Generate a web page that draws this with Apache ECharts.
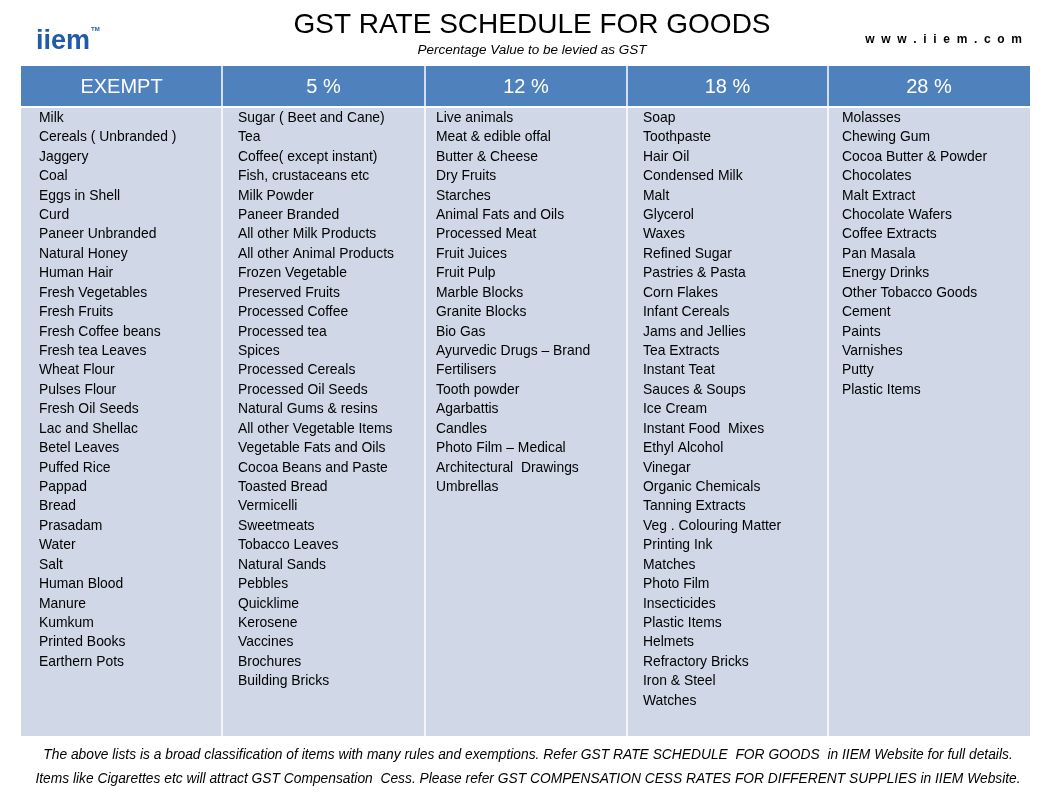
<!DOCTYPE html>
<html><head><meta charset="utf-8">
<script src="https://cdn.jsdelivr.net/npm/echarts@6/dist/echarts.min.js"></script>
<style>html,body{margin:0;padding:0;background:#fff}#c{width:1054px;height:792px}</style>
</head><body><div id="c"></div>
<script>
const headers = ["EXEMPT","5 %","12 %","18 %","28 %"];
const exempt = ["Milk","Cereals ( Unbranded )","Jaggery","Coal","Eggs in Shell","Curd","Paneer Unbranded","Natural Honey","Human Hair","Fresh Vegetables","Fresh Fruits","Fresh Coffee beans","Fresh tea Leaves","Wheat Flour","Pulses Flour","Fresh Oil Seeds","Lac and Shellac","Betel Leaves","Puffed Rice","Pappad","Bread","Prasadam","Water","Salt","Human Blood","Manure","Kumkum","Printed Books","Earthern Pots"];
const rate5 = ["Sugar ( Beet and Cane)","Tea","Coffee( except instant)","Fish, crustaceans etc","Milk Powder","Paneer Branded","All other Milk Products","All other Animal Products","Frozen Vegetable","Preserved Fruits","Processed Coffee","Processed tea","Spices","Processed Cereals","Processed Oil Seeds","Natural Gums & resins","All other Vegetable Items","Vegetable Fats and Oils","Cocoa Beans and Paste","Toasted Bread","Vermicelli","Sweetmeats","Tobacco Leaves","Natural Sands","Pebbles","Quicklime","Kerosene","Vaccines","Brochures","Building Bricks"];
const rate12 = ["Live animals","Meat & edible offal","Butter & Cheese","Dry Fruits","Starches","Animal Fats and Oils","Processed Meat","Fruit Juices","Fruit Pulp","Marble Blocks","Granite Blocks","Bio Gas","Ayurvedic Drugs – Brand","Fertilisers","Tooth powder","Agarbattis","Candles","Photo Film – Medical","Architectural  Drawings","Umbrellas"];
const rate18 = ["Soap","Toothpaste","Hair Oil","Condensed Milk","Malt","Glycerol","Waxes","Refined Sugar","Pastries & Pasta","Corn Flakes","Infant Cereals","Jams and Jellies","Tea Extracts","Instant Teat","Sauces & Soups","Ice Cream","Instant Food  Mixes","Ethyl Alcohol","Vinegar","Organic Chemicals","Tanning Extracts","Veg . Colouring Matter","Printing Ink","Matches","Photo Film","Insecticides","Plastic Items","Helmets","Refractory Bricks","Iron & Steel","Watches"];
const rate28 = ["Molasses","Chewing Gum","Cocoa Butter & Powder","Chocolates","Malt Extract","Chocolate Wafers","Coffee Extracts","Pan Masala","Energy Drinks","Other Tobacco Goods","Cement","Paints","Varnishes","Putty","Plastic Items"];
const columns = [exempt, rate5, rate12, rate18, rate28];
const footer = ["The above lists is a broad classification of items with many rules and exemptions. Refer GST RATE SCHEDULE  FOR GOODS  in IIEM Website for full details.","Items like Cigarettes etc will attract GST Compensation  Cess. Please refer GST COMPENSATION CESS RATES FOR DIFFERENT SUPPLIES in IIEM Website."];

const colX = [21,222,425,627,828,1030];
const textOff = [18,16,11,16,14];
const headTop = 66, headBot = 107, bodyBot = 736, rowTop = 118, rowH = 19.43;
const F = '"Liberation Sans", Arial, sans-serif';
const g = [];
for (let i = 0; i < 5; i++) {
  const x0 = colX[i], w = colX[i+1]-colX[i];
  g.push({type:'rect', shape:{x:x0,y:headTop,width:w,height:headBot-headTop}, style:{fill:'#4f81bd'}});
  g.push({type:'rect', shape:{x:x0,y:headBot,width:w,height:bodyBot-headBot}, style:{fill:'#d0d8e8'}});
  g.push({type:'text', x:x0+w/2, y:(headTop+headBot)/2+1, style:{text:headers[i], fill:'#fff', font:'20px '+F, align:'center', verticalAlign:'middle'}});
  columns[i].forEach((t,j)=>{
    g.push({type:'text', x:x0+textOff[i], y:rowTop+j*rowH, style:{text:t, fill:'#000', font:'13.9px '+F, verticalAlign:'middle'}});
  });
}
for (let i = 1; i < 5; i++) {
  g.push({type:'line', shape:{x1:colX[i],y1:headTop,x2:colX[i],y2:bodyBot}, style:{stroke:'#fff',lineWidth:1.5}});
}
g.push({type:'line', shape:{x1:21,y1:headBot,x2:1030,y2:headBot}, style:{stroke:'#fff',lineWidth:2}});
g.push({type:'text', x:532, y:25, style:{text:'GST RATE SCHEDULE FOR GOODS', fill:'#000', font:'28px '+F, align:'center', verticalAlign:'middle'}});
g.push({type:'text', x:532, y:50, style:{text:'Percentage Value to be levied as GST', fill:'#000', font:'italic 13.5px '+F, align:'center', verticalAlign:'middle'}});
g.push({type:'text', x:1022, y:40, style:{text:'w  w  w  .  i  i  e  m  .  c  o  m', fill:'#000', font:'bold 12px '+F, align:'right', verticalAlign:'middle'}});
g.push({type:'text', x:36, y:42, style:{text:'iiem', fill:'#1f5ba8', font:'bold 27px '+F, verticalAlign:'middle'}});
g.push({type:'text', x:91, y:29, style:{text:'TM', fill:'#1f5ba8', font:'bold 6px '+F, verticalAlign:'middle'}});
footer.forEach((t,j)=>{
  g.push({type:'text', x:528, y:755+j*24, style:{text:t, fill:'#000', font:'italic 13.8px '+F, align:'center', verticalAlign:'middle'}});
});
const chart = echarts.init(document.getElementById('c'));
chart.setOption({animation:false, graphic:{elements:g}});
</script></body></html>
